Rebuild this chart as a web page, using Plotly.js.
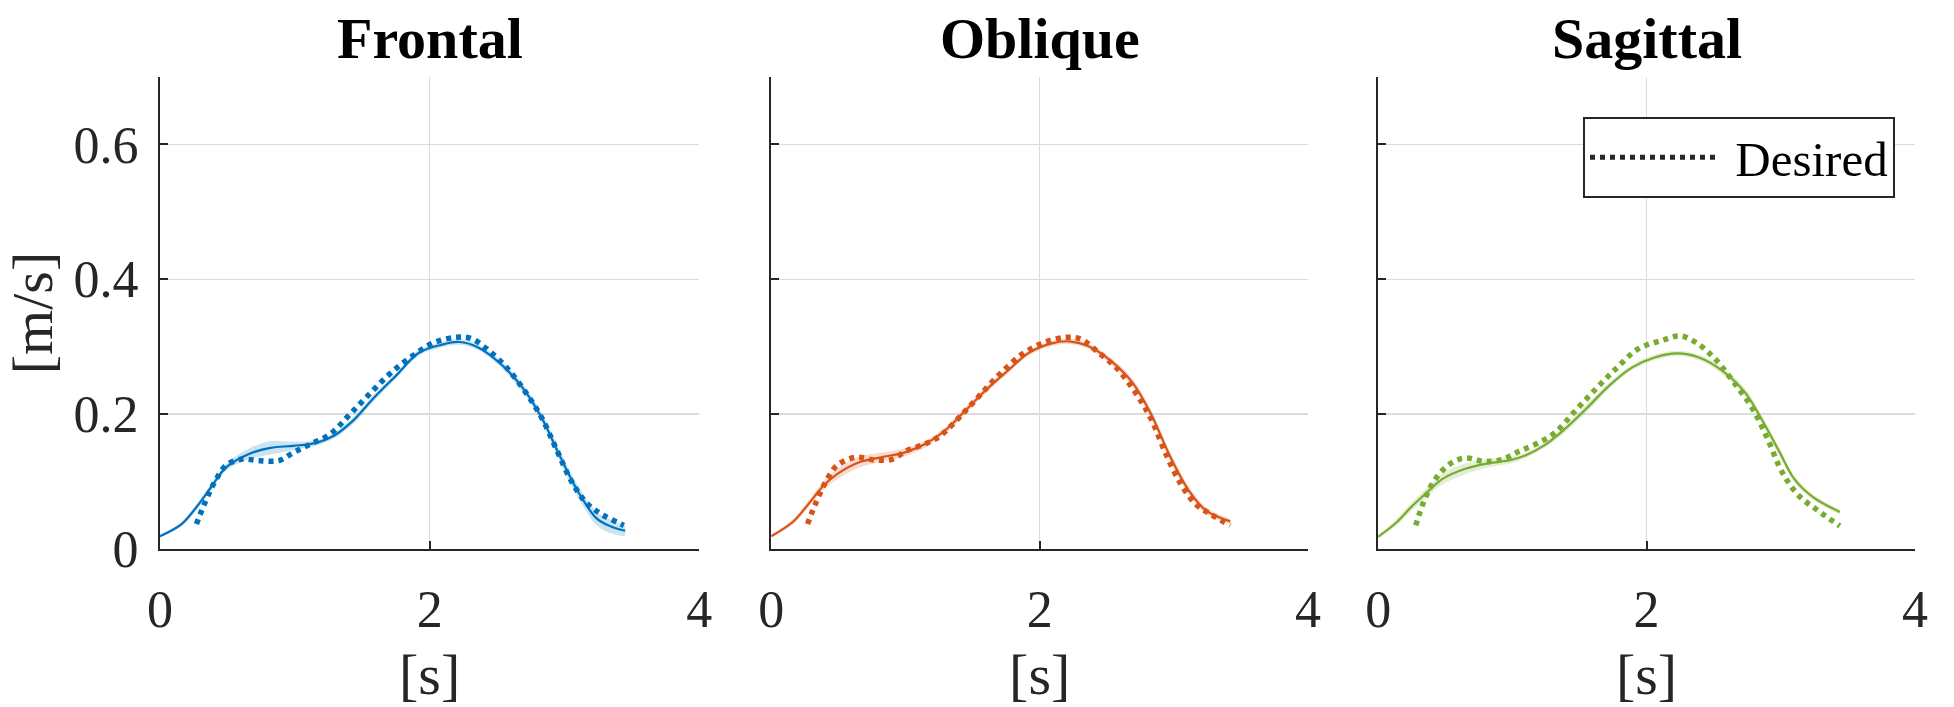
<!DOCTYPE html>
<html>
<head>
<meta charset="utf-8">
<script src="https://cdn.plot.ly/plotly-3.0.1.min.js"></script>
<style>html,body{margin:0;padding:0;background:#fff;}#chart{width:1954px;height:707px;}</style>
</head>
<body>
<div id="chart"></div>
<script>
// ---- data ----
const panelTitles = ["Frontal", "Oblique", "Sagittal"];
const xTickVals = [0, 2, 4];
const xTickText = ["0", "2", "4"];
const yTickVals = [0, 0.2, 0.4, 0.6];
const yTickText = ["0", "0.2", "0.4", "0.6"];

// Frontal – measured mean, band half-width, desired
const frontalX = [0, 0.16, 0.27, 0.38, 0.49, 0.66, 0.82, 0.99, 1.15, 1.29, 1.43, 1.59, 1.76, 1.92, 2.09, 2.22, 2.36, 2.53, 2.69, 2.83, 2.97, 3.11, 3.24, 3.35, 3.45];
const frontalY = [0.019, 0.037, 0.062, 0.092, 0.121, 0.141, 0.150, 0.153, 0.157, 0.168, 0.190, 0.225, 0.259, 0.291, 0.303, 0.307, 0.299, 0.274, 0.239, 0.195, 0.136, 0.082, 0.045, 0.033, 0.027];
const frontalSpread = [0.002, 0.003, 0.004, 0.004, 0.005, 0.008, 0.010, 0.006, 0.004, 0.004, 0.005, 0.005, 0.004, 0.004, 0.004, 0.004, 0.004, 0.005, 0.006, 0.007, 0.008, 0.009, 0.010, 0.010, 0.008];
const frontalDesX = [0.27, 0.34, 0.41, 0.49, 0.60, 0.74, 0.88, 0.99, 1.12, 1.26, 1.40, 1.54, 1.70, 1.87, 2.03, 2.20, 2.31, 2.44, 2.58, 2.72, 2.83, 2.94, 3.05, 3.16, 3.27, 3.44];
const frontalDesY = [0.037, 0.072, 0.101, 0.124, 0.133, 0.131, 0.131, 0.143, 0.156, 0.170, 0.198, 0.227, 0.259, 0.286, 0.306, 0.314, 0.312, 0.294, 0.267, 0.230, 0.195, 0.148, 0.101, 0.069, 0.052, 0.035];

// Oblique
const obliqueX = [0, 0.16, 0.27, 0.38, 0.49, 0.66, 0.82, 0.99, 1.15, 1.29, 1.43, 1.59, 1.76, 1.92, 2.09, 2.22, 2.36, 2.53, 2.69, 2.83, 2.97, 3.11, 3.24, 3.42];
const obliqueY = [0.019, 0.040, 0.065, 0.092, 0.111, 0.129, 0.136, 0.143, 0.156, 0.175, 0.202, 0.234, 0.264, 0.291, 0.305, 0.308, 0.301, 0.279, 0.247, 0.200, 0.138, 0.087, 0.057, 0.041];
const obliqueSpread = [0.002, 0.004, 0.005, 0.006, 0.008, 0.008, 0.007, 0.006, 0.005, 0.005, 0.005, 0.005, 0.004, 0.004, 0.004, 0.004, 0.004, 0.005, 0.006, 0.007, 0.007, 0.006, 0.005, 0.004];
const obliqueDesX = [0.27, 0.34, 0.41, 0.49, 0.63, 0.77, 0.90, 1.01, 1.15, 1.26, 1.40, 1.54, 1.70, 1.87, 2.03, 2.20, 2.31, 2.44, 2.58, 2.72, 2.83, 2.94, 3.05, 3.16, 3.27, 3.42];
const obliqueDesY = [0.037, 0.072, 0.101, 0.124, 0.136, 0.132, 0.133, 0.146, 0.156, 0.168, 0.195, 0.225, 0.259, 0.289, 0.306, 0.314, 0.311, 0.291, 0.267, 0.230, 0.193, 0.141, 0.097, 0.067, 0.052, 0.035];

// Sagittal
const sagittalX = [0, 0.14, 0.25, 0.37, 0.48, 0.65, 0.82, 0.99, 1.10, 1.24, 1.38, 1.55, 1.72, 1.89, 2.06, 2.23, 2.39, 2.56, 2.73, 2.87, 2.99, 3.10, 3.24, 3.44];
const sagittalY = [0.018, 0.040, 0.063, 0.085, 0.104, 0.119, 0.127, 0.132, 0.139, 0.154, 0.176, 0.208, 0.242, 0.269, 0.284, 0.290, 0.284, 0.265, 0.233, 0.188, 0.144, 0.104, 0.077, 0.055];
const sagittalSpread = [0.002, 0.005, 0.006, 0.007, 0.008, 0.008, 0.006, 0.005, 0.004, 0.004, 0.005, 0.006, 0.005, 0.004, 0.004, 0.004, 0.004, 0.005, 0.006, 0.006, 0.006, 0.005, 0.004, 0.004];
const sagittalDesX = [0.28, 0.34, 0.42, 0.54, 0.65, 0.79, 0.93, 1.04, 1.18, 1.32, 1.46, 1.61, 1.77, 1.94, 2.11, 2.25, 2.37, 2.51, 2.65, 2.79, 2.90, 3.01, 3.13, 3.27, 3.44];
const sagittalDesY = [0.035, 0.070, 0.102, 0.127, 0.135, 0.130, 0.133, 0.144, 0.156, 0.173, 0.203, 0.235, 0.267, 0.297, 0.309, 0.316, 0.306, 0.282, 0.247, 0.208, 0.164, 0.114, 0.080, 0.058, 0.034];

const seriesColors = ["#0072BD", "#D95319", "#77AC30"];
const bandColors = ["rgba(0,114,189,0.2)", "rgba(217,83,25,0.2)", "rgba(119,172,48,0.2)"];
const legendLabel = "Desired";

// ---- build traces ----
const panels = [
  {x: frontalX, y: frontalY, s: frontalSpread, dx: frontalDesX, dy: frontalDesY},
  {x: obliqueX, y: obliqueY, s: obliqueSpread, dx: obliqueDesX, dy: obliqueDesY},
  {x: sagittalX, y: sagittalY, s: sagittalSpread, dx: sagittalDesX, dy: sagittalDesY}
];
const traces = [];
panels.forEach((p, i) => {
  const xa = i === 0 ? "x" : "x" + (i + 1);
  const ya = i === 0 ? "y" : "y" + (i + 1);
  const lower = p.y.map((v, k) => v - p.s[k]);
  const upper = p.y.map((v, k) => v + p.s[k]);
  traces.push({x: p.x, y: lower, xaxis: xa, yaxis: ya, mode: "lines", line: {width: 0, shape: "spline"}, showlegend: false, hoverinfo: "skip"});
  traces.push({x: p.x, y: upper, xaxis: xa, yaxis: ya, mode: "lines", line: {width: 0, shape: "spline"}, fill: "tonexty", fillcolor: bandColors[i], showlegend: false, hoverinfo: "skip"});
  traces.push({x: p.x, y: p.y, xaxis: xa, yaxis: ya, mode: "lines", line: {color: seriesColors[i], width: 2.2, shape: "spline"}, showlegend: false});
  traces.push({x: p.dx, y: p.dy, xaxis: xa, yaxis: ya, mode: "lines", line: {color: seriesColors[i], width: 5.5, dash: "5px,5px", shape: "spline"}, showlegend: false});
});
// legend entry
traces.push({x: [null], y: [null], xaxis: "x3", yaxis: "y3", mode: "lines", name: "\u00a0" + legendLabel, line: {color: "#262626", width: 5, dash: "5px,5px"}, showlegend: true});

const FONT = "Liberation Serif, Times New Roman, serif";
const axisCommon = {
  range: [0, 4], tickvals: xTickVals, ticktext: xTickText,
  showgrid: true, gridcolor: "#dcdcdc", gridwidth: 1.5, zeroline: false,
  showline: true, linecolor: "#262626", linewidth: 2,
  ticks: "inside", ticklen: 8, tickwidth: 2, tickcolor: "#262626",
  tickfont: {family: FONT, size: 52, color: "#262626"},
  ticklabelstandoff: 14,
  title: {text: "[s]", font: {family: FONT, size: 58, color: "#262626"}, standoff: 18},
  fixedrange: true
};
const yCommon = {
  range: [0, 0.7], tickvals: yTickVals, ticktext: yTickText,
  showgrid: true, gridcolor: "#dcdcdc", gridwidth: 1.5, zeroline: false,
  showline: true, linecolor: "#262626", linewidth: 2,
  ticks: "inside", ticklen: 8, tickwidth: 2, tickcolor: "#262626",
  tickfont: {family: FONT, size: 52, color: "#262626"},
  ticklabelstandoff: 9,
  fixedrange: true
};
const doms = [[0, 0.3073], [0.3483, 0.6542], [0.6941, 1.0]];
const layout = {
  width: 1954, height: 707,
  margin: {l: 159.5, r: 39, t: 77, b: 157.5},
  paper_bgcolor: "#fff", plot_bgcolor: "#fff",
  xaxis: Object.assign({}, axisCommon, {domain: doms[0], anchor: "y"}),
  xaxis2: Object.assign({}, axisCommon, {domain: doms[1], anchor: "y2"}),
  xaxis3: Object.assign({}, axisCommon, {domain: doms[2], anchor: "y3"}),
  yaxis: Object.assign({}, yCommon, {domain: [0, 1], anchor: "x", title: {text: "[m/s]", font: {family: FONT, size: 58, color: "#262626"}, standoff: 9}}),
  yaxis2: Object.assign({}, yCommon, {domain: [0, 1], anchor: "x2", showticklabels: false}),
  yaxis3: Object.assign({}, yCommon, {domain: [0, 1], anchor: "x3", showticklabels: false}),
  showlegend: true,
  legend: {x: 0.9886, xanchor: "right", y: 0.9153, yanchor: "top", bgcolor: "#fff", bordercolor: "#262626", borderwidth: 2,
           font: {family: FONT, size: 49, color: "#000"}, itemwidth: 128},
  annotations: panelTitles.map((t, i) => ({
    text: "<b>" + t + "</b>", xref: "paper", yref: "paper",
    x: (doms[i][0] + doms[i][1]) / 2, y: 1.082, xanchor: "center", yanchor: "middle",
    showarrow: false, font: {family: FONT, size: 58, color: "#000"}
  }))
};
Plotly.newPlot("chart", traces, layout, {displayModeBar: false, staticPlot: true});
</script>
</body>
</html>
